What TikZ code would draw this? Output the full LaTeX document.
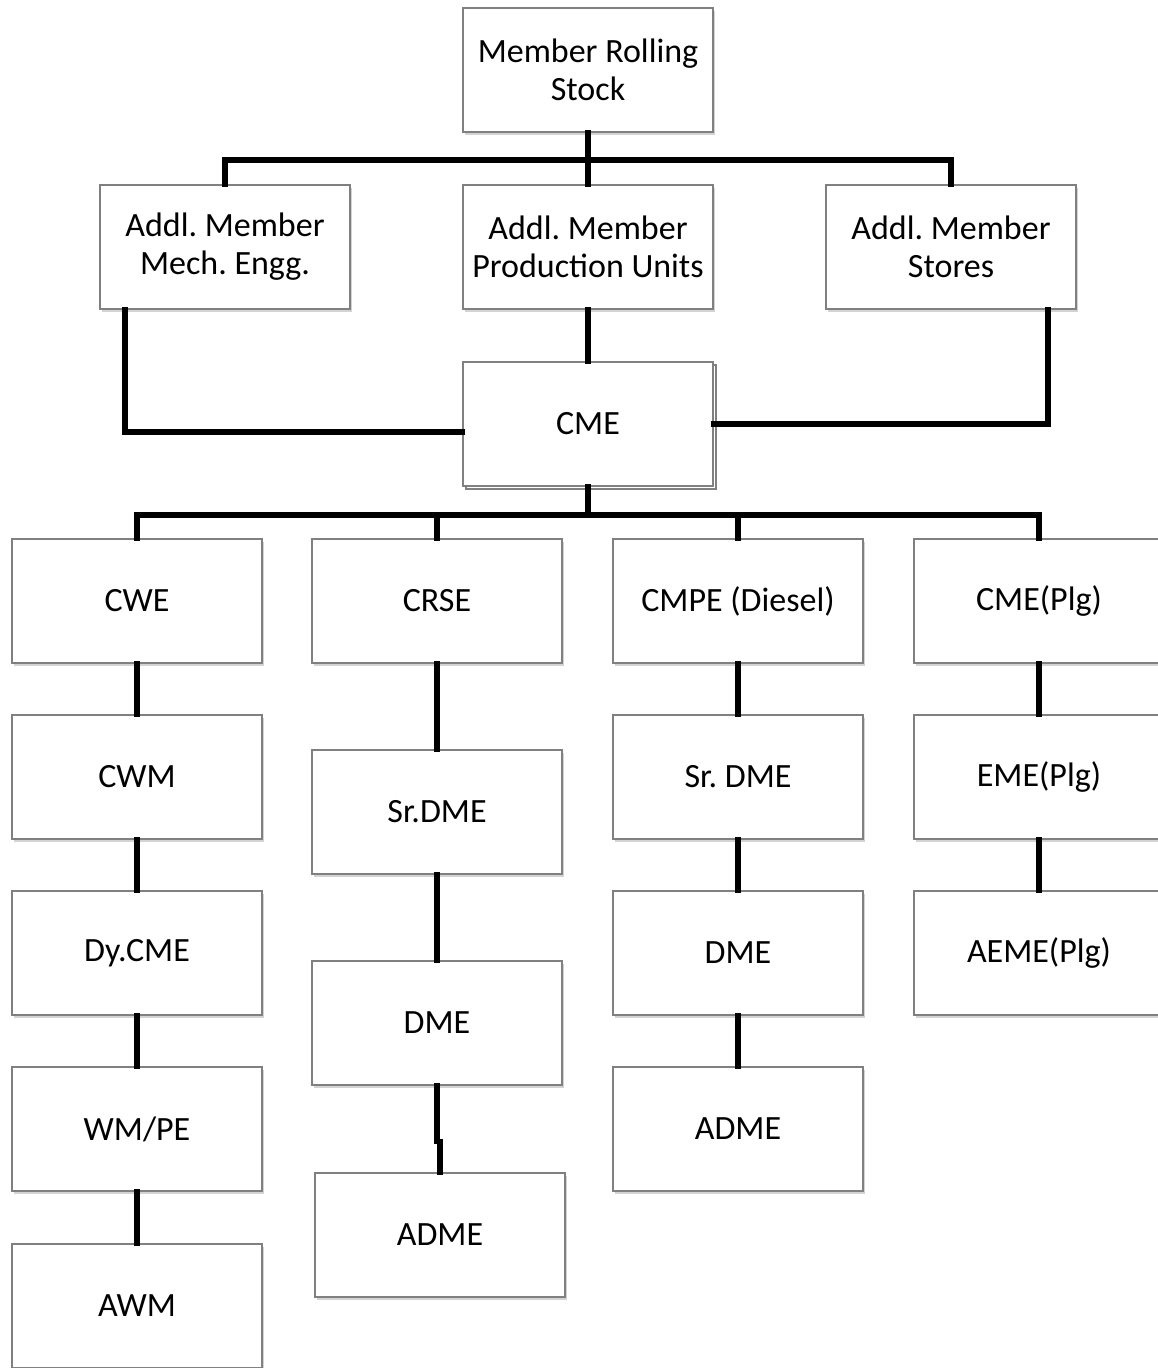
\documentclass[tikz,border=0pt]{standalone}
\usepackage{fontspec}
\setmainfont{Carlito}
\usetikzlibrary{positioning,calc,shadows}
\frenchspacing

\tikzset{
  post/.style={draw=black!50, line width=0.75pt, fill=white, align=center,
    minimum width=125pt, minimum height=62pt, inner sep=2pt,
    font=\fontsize{17}{19}\selectfont,
    drop shadow={shadow xshift=1pt, shadow yshift=-1.5pt, opacity=0.35}},
  wire/.style={line width=2.6pt, line cap=rect}
}

\begin{document}
\begin{tikzpicture}[x=0.5pt,y=-0.5pt]
\useasboundingbox (0,0) rectangle (1157,1368);
% top levels
\node[post] (mrs) at (588,70) {Member Rolling\\Stock};
\node[post] (amm) at (225,247) {Addl. Member\\Mech. Engg.};
\node[post] (amp) at (588,247) {Addl. Member\\Production Units};
\node[post] (ams) at (951,247) {Addl. Member\\Stores};
\node[post, copy shadow={shadow xshift=1.5pt, shadow yshift=-1.5pt, draw=black!50, fill=white}] (cme) at (588,424) {CME};
% column 1
\node[post] (cwe) at (137,601) {CWE};
\node[post] (cwm) at (137,777) {CWM};
\node[post] (dyc) at (137,953) {Dy.CME};
\node[post] (wmp) at (137,1129) {WM/PE};
\node[post] (awm) at (137,1306) {AWM};
% column 2
\node[post] (crse) at (437,601) {CRSE};
\node[post] (sdm1) at (437,812) {Sr.DME};
\node[post] (dme1) at (437,1023) {DME};
\node[post] (adm1) at (440,1235) {ADME};
% column 3
\node[post] (cmpe) at (738,601) {CMPE (Diesel)};
\node[post] (sdm2) at (738,777) {Sr. DME};
\node[post] (dme2) at (738,953) {DME};
\node[post] (adm2) at (738,1129) {ADME};
% column 4
\node[post] (cmep) at (1039,601) {CME(Plg)};
\node[post] (emep) at (1039,777) {EME(Plg)};
\node[post] (aeme) at (1039,953) {AEME(Plg)};

% connectors
\coordinate (bus1) at (588,160);
\coordinate (bus2) at (588,515);
\draw[wire] (mrs.south) -- (amp.north);
\draw[wire] (amm.north) |- (bus1);
\draw[wire] (ams.north) |- (bus1);
\draw[wire] (amp.south) -- (cme.north);
\draw[wire] ([xshift=-50pt]amm.south) |- ([yshift=-4pt]cme.west);
\draw[wire] ([xshift=48.5pt]ams.south) |- (cme.east);
\draw[wire] (cme.south) -- (bus2);
\draw[wire] (cwe.north) |- (bus2);
\draw[wire] (crse.north) |- (bus2);
\draw[wire] (cmpe.north) |- (bus2);
\draw[wire] (cmep.north) |- (bus2);
\draw[wire] (cwe) -- (cwm);
\draw[wire] (cwm) -- (dyc);
\draw[wire] (dyc) -- (wmp);
\draw[wire] (wmp) -- (awm);
\draw[wire] (crse) -- (sdm1);
\draw[wire] (sdm1) -- (dme1);
\draw[wire] (dme1.south) -- ++(0,56) -| (adm1.north);
\draw[wire] (cmpe) -- (sdm2);
\draw[wire] (sdm2) -- (dme2);
\draw[wire] (dme2) -- (adm2);
\draw[wire] (cmep) -- (emep);
\draw[wire] (emep) -- (aeme);
\end{tikzpicture}
\end{document}
